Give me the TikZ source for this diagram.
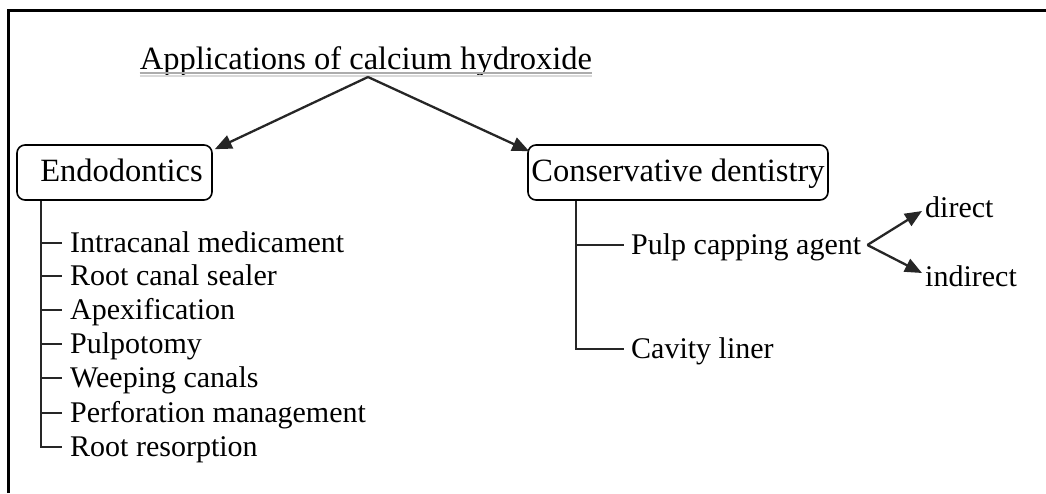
\documentclass[tikz,border=0pt]{standalone}
\usepackage{fontspec}
\setmainfont{Liberation Serif}
\usetikzlibrary{arrows.meta,calc}
\begin{document}
\begin{tikzpicture}[x=1pt,y=-1pt,
  big/.style={font=\fontsize{32.5}{38}\selectfont},
  item/.style={font=\fontsize{30}{36}\selectfont, anchor=west, inner sep=0pt, text height=22pt, text depth=4pt},
  box/.style={draw, line width=1.6pt, rounded corners=8pt, big, inner sep=0pt, text height=22pt, text depth=5pt},
  conn/.style={line width=2.3pt, draw=black!85},
  arr/.style={conn, -{Triangle[length=17pt,width=14pt]}},
  frame/.style={line width=3pt, draw=black},
]
\useasboundingbox (0,0) rectangle (1046,493);
\draw[frame] (8,493) -- (8,10.5) -- (1046,10.5);

% title
\node[big, anchor=base, inner sep=0pt] (title) at (366,69) {Applications of calcium hydroxide};
\draw[gray!30, line width=2pt] ([yshift=-6.5pt]title.base west) -- ([yshift=-6.5pt]title.base east);
\draw[gray!65, line width=2.5pt] ([yshift=-4pt]title.base west) -- ([yshift=-4pt]title.base east);
\coordinate (apex) at (368,77);

% boxes
\node[box, minimum width=195pt, minimum height=55pt] (endo) at (114.5,172.5) {\hspace*{14pt}Endodontics};
\node[box, minimum width=300pt, minimum height=55pt] (cons) at (678,172.5) {Conservative dentistry};

\draw[arr] (apex) -- ([xshift=2pt,yshift=-5pt]endo.north east);
\draw[arr] (apex) -- ([xshift=2pt,yshift=-7pt]cons.north west);

% endodontics list
\coordinate (ev) at ([xshift=25pt]endo.south west);
\node[item] (i1) at (70,243) {Intracanal medicament};
\node[item] (i2) at (70,276) {Root canal sealer};
\node[item] (i3) at (70,310) {Apexification};
\node[item] (i4) at (70,344) {Pulpotomy};
\node[item] (i5) at (70,378) {Weeping canals};
\node[item] (i6) at (70,413) {Perforation management};
\node[item] (i7) at (70,447) {Root resorption};
\draw[conn] (ev) -- (ev |- i7.west) -- ([xshift=-8pt]i7.west);
\foreach \i in {1,...,6}{
  \draw[conn] (ev |- i\i.west) -- ([xshift=-8pt]i\i.west);
}

% conservative list
\coordinate (cv) at ([xshift=49pt]cons.south west);
\node[item] (pulp) at (631,245) {Pulp capping agent};
\node[item] (cav) at (631,349) {Cavity liner};
\draw[conn] (cv) -- (cv |- cav.west) -- ([xshift=-7pt]cav.west);
\draw[conn] (cv |- pulp.west) -- ([xshift=-7pt]pulp.west);

% direct / indirect
\coordinate (fork) at ([xshift=6pt]pulp.east);
\node[item] (dir) at (925,208) {direct};
\node[item] (ind) at (925,277) {indirect};
\draw[arr] (fork) -- ([xshift=-3pt,yshift=-3pt]dir.west);
\draw[arr] (fork) -- ([xshift=-3pt,yshift=4pt]ind.west);
\end{tikzpicture}
\end{document}
